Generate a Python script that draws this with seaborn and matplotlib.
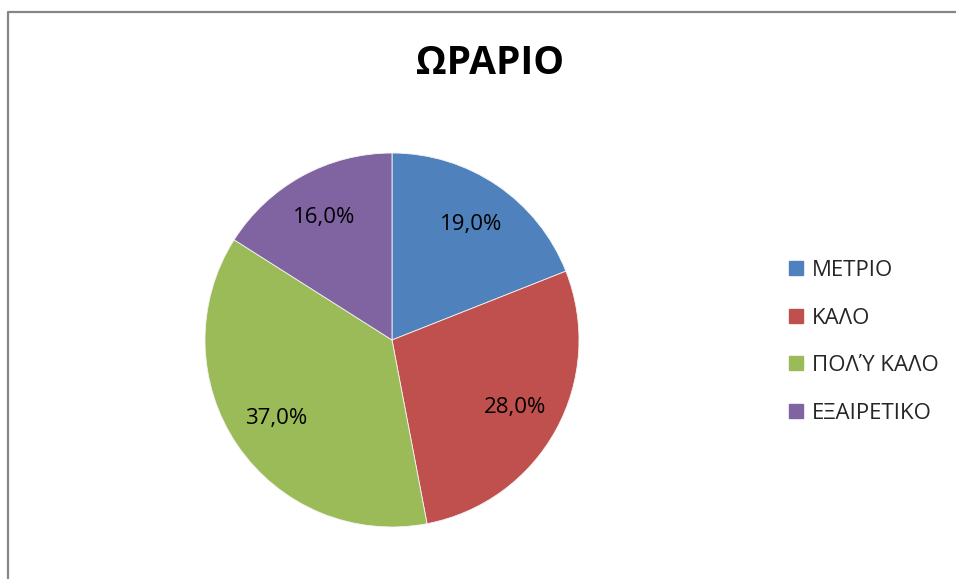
import matplotlib
matplotlib.use("Agg")
import matplotlib.pyplot as plt
import seaborn as sns
from matplotlib.lines import Line2D

# Survey results: rating of working hours
title = "ΩΡΑΡΙΟ"
categories = ["ΜΕΤΡΙΟ", "ΚΑΛΟ", "ΠΟΛΎ ΚΑΛΟ", "ΕΞΑΙΡΕΤΙΚΟ"]
shares = [19.0, 28.0, 37.0, 16.0]
colors = ["#4F81BD", "#C0504D", "#9BBB59", "#8064A2"]

sns.set_theme(style="white")
plt.rcParams["font.family"] = ["Open Sans", "DejaVu Sans"]

W, H = 956, 579
fig = plt.figure(figsize=(W / 100, H / 100), dpi=100)
fig.patch.set_facecolor("white")

# pie centred at (392, 340) px with a radius of 187 px
cx, cy, r = 392, 340, 187
ax = fig.add_axes([(cx - r) / W, (H - cy - r) / H, 2 * r / W, 2 * r / H])

def fmt(p):
    return f"{p:.1f}%".replace(".", ",")

wedges, texts, autotexts = ax.pie(
    shares,
    colors=colors,
    startangle=90,
    counterclock=False,
    autopct=fmt,
    pctdistance=0.75,
    radius=1.0,
    wedgeprops=dict(edgecolor="#f4f4f4", linewidth=0.6),
    textprops=dict(fontsize=16, color="black"),
)
ax.set_xlim(-1, 1)
ax.set_ylim(-1, 1)
ax.set_aspect("equal")
ax.axis("off")

fig.text(490 / W, 1 - 63 / H, title, ha="center", va="center",
         fontsize=28, fontweight="bold", color="black")

# legend with square markers
handles = [Line2D([0], [0], marker="s", linestyle="none", markersize=10.5,
                  markerfacecolor=c, markeredgecolor=c) for c in colors]
fig.legend(handles, categories, loc="upper left",
           bbox_to_anchor=(776 / W, 1 - 251 / H), frameon=False,
           fontsize=16, labelspacing=1.2, handletextpad=0.22,
           handlelength=1.0, borderaxespad=0)

# chart area frame (left and top edges)
fig.add_artist(Line2D([7.5 / W, 7.5 / W, 1.0], [0.0, 1 - 11.5 / H, 1 - 11.5 / H],
                      transform=fig.transFigure, color="#868686", linewidth=1.6))

fig.savefig("out.png", dpi=100, facecolor="white")
